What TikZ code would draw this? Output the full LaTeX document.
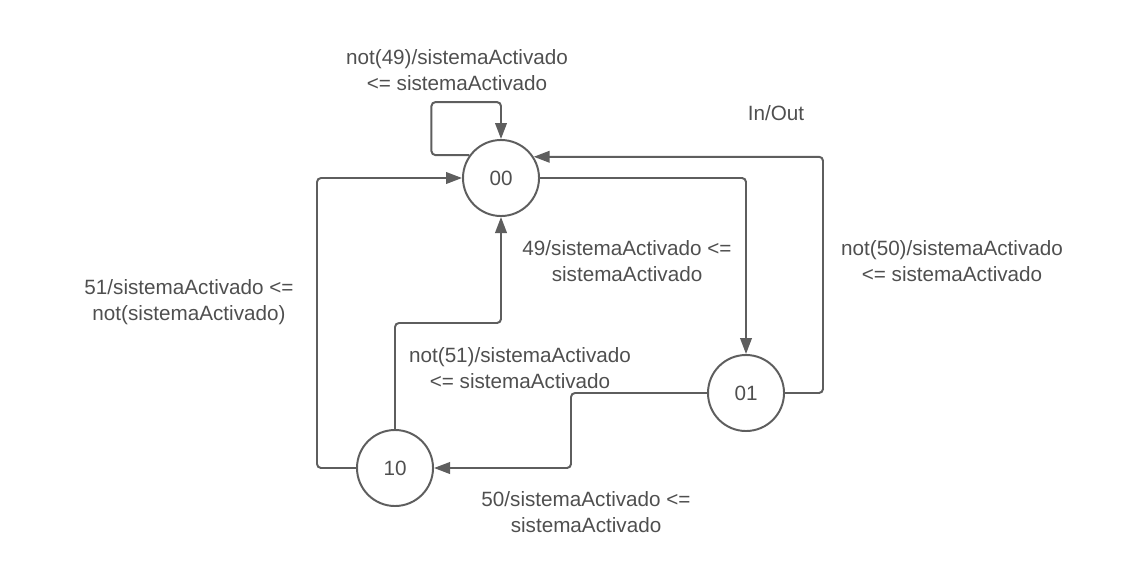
\documentclass[tikz,border=0pt]{standalone}
\usepackage{fontspec}
\setmainfont{Liberation Sans}
\usetikzlibrary{arrows.meta, positioning}
\definecolor{linegray}{HTML}{5E5E5E}
\definecolor{textgray}{HTML}{4F4F4F}

\begin{document}
\begin{tikzpicture}[x=0.025cm, y=-0.025cm, >={Triangle[length=0.4cm, width=0.29cm]}, every node/.style={font=\fontsize{14.7}{18}\selectfont, text=textgray}, state/.style={circle, draw=linegray, line width=1.4pt, minimum size=1.9cm, inner sep=0pt}, lbl/.style={align=center, inner sep=0pt}, trans/.style={->, draw=linegray, line width=1.4pt, rounded corners=0.1cm}]
\useasboundingbox (0,0) rectangle (1128,567);
% states
\node[state] (s00) at (501,178) {00};
\node[state] (s01) at (746,393) {01};
\node[state] (s10) at (395,468) {10};
% transitions
\draw[trans] (s00.144) -- ++(-38,0) -- ++(0,-53) -| (s00.north);
\draw[trans] (s00.east) -| (s01.north);
\draw[trans] (s01.east) -- ++(38,0) |- (s00.33.5);
\draw[trans] (s01.west) -| (571,468) -- (s10.east);
\draw[trans] (s10.north) -- ++(0,-106) -| (s00.south);
\draw[trans] (s10.west) -- ++(-39,0) |- (s00.west);
% labels
\node[lbl] (l49) at (457,70) {not(49)/sistemaActivado\\<= sistemaActivado};
\node[lbl] (lio) at (776,113) {In/Out};
\node[lbl] (t49) at (627,261) {49/sistemaActivado <=\\sistemaActivado};
\node[lbl] (l50) at (952,261) {not(50)/sistemaActivado\\<= sistemaActivado};
\node[lbl] (t51) at (189,302) {51/sistemaActivado <=\\not(sistemaActivado)};
\node[lbl] (l51) at (520,368) {not(51)/sistemaActivado\\<= sistemaActivado};
\node[lbl] (t50) at (586,512) {50/sistemaActivado <=\\sistemaActivado};
\end{tikzpicture}
\end{document}
